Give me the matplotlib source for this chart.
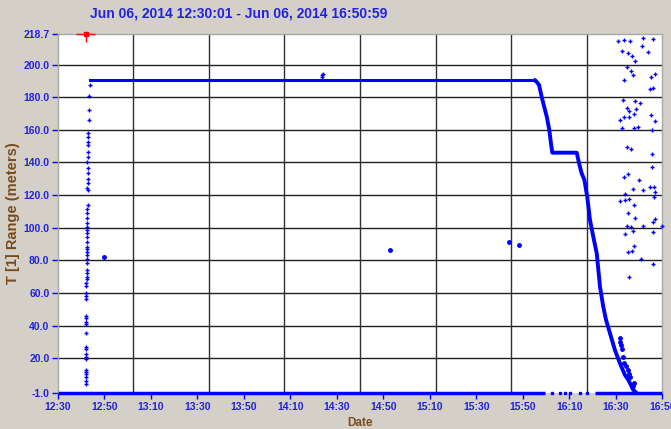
import numpy as np
import matplotlib
matplotlib.use('Agg')
import matplotlib.pyplot as plt

# minutes after 12:30 on Jun 06, 2014
xtick_minutes = [0, 20, 40, 60, 80, 100, 120, 140, 160, 180, 200, 220, 240, 260]
xtick_labels = ['12:30', '12:50', '13:10', '13:30', '13:50', '14:10', '14:30',
                '14:50', '15:10', '15:30', '15:50', '16:10', '16:30', '16:50']
ytick_values = [-1.0, 20.0, 40.0, 60.0, 80.0, 100.0, 120.0, 140.0, 160.0, 180.0, 200.0, 218.7]

# climb at start of track
ramp_t = [12.1, 12.1, 12.1, 12.1, 12.1, 12.1, 12.1, 12.1, 12.1, 12.2, 12.2, 12.1, 12.2, 12.2,
          12.2, 12.2, 12.3, 12.3, 12.3, 12.3, 12.3, 12.4, 12.4, 12.4, 12.4, 12.4, 12.5, 12.5,
          12.5, 12.5, 12.5, 12.6, 12.6, 12.6, 12.6, 12.6, 12.7, 12.7, 12.7, 12.7, 12.8, 12.8,
          12.6, 12.8, 12.9, 12.9, 13.0, 12.7, 12.9, 13.0, 13.1, 13.1, 13.2, 13.2, 13.4, 13.5,
          13.6, 13.7]
ramp_v = [4.4, 6.4, 8.9, 10.5, 11.9, 13.0, 19.5, 21.1, 22.5, 25.6, 27.2, 35.4, 41.1, 42.6,
          44.6, 46.0, 56.4, 58.3, 59.9, 64.4, 66.4, 68.9, 70.1, 72.1, 74.2, 78.3, 80.7, 83.4,
          85.2, 86.8, 88.5, 91.5, 94.6, 96.6, 98.7, 100.7, 102.8, 105.9, 108.9, 111.4, 114.0, 123.2,
          124.2, 127.3, 129.7, 133.4, 136.5, 140.6, 143.6, 146.7, 150.8, 152.8, 155.9, 157.9, 166.1,
          172.2, 180.8, 187.5]

# long plateau
flat_t = [13.8, 205.2]
flat_v = [190.3, 190.3]

# descent, second plateau, final descent
track_t = [205.2, 205.9, 207.0, 208.1, 208.8, 210.3, 211.4, 212.1, 212.7, 223.2, 224.2,
           225.3, 226.5, 227.7, 228.9, 230.3, 231.8, 233.2, 234.6, 235.8, 237.5, 239.6, 241.8,
           243.9, 245.4, 246.5, 247.5, 248.5]
track_v = [190.3, 189.5, 187.5, 180.3, 176.3, 168.1, 159.9, 151.8, 146.0, 146.0, 139.5,
           133.4, 129.3, 119.1, 104.8, 94.6, 84.4, 64.0, 51.7, 43.6, 35.4, 25.2, 17.0,
           9.9, 6.8, 3.7, 0.7, -0.6]

bump_t = [113.7, 113.8, 113.9]
bump_v = [192.5, 193.5, 194.3]

# stray points
stray_t = [20.0, 142.9, 194.2, 198.2,
           241.8, 242.5, 243.6, 245.1, 246.1, 248.0, 242.0, 242.3, 243.0, 244.5, 245.8, 247.2]
stray_v = [82.3, 86.4, 91.1, 89.3,
           32.5, 25.8, 17.2, 13.0, 8.9, 5.0, 30.0, 28.0, 21.0, 15.5, 10.5, 3.0]

# scattered readings at end of track
end_t = [240.9, 243.6, 246.0, 251.8, 256.1, 242.8, 245.2, 247.0, 248.4, 251.1, 253.8, 244.8,
         246.4, 247.5, 243.6, 256.9, 255.0, 256.0, 254.6, 243.2, 248.4, 250.4, 244.8, 245.5,
         248.8, 247.7, 243.6, 245.8, 241.7, 255.1, 257.0, 242.7, 248.0, 249.7, 255.7, 244.8,
         246.4, 255.4, 255.7, 243.4, 245.4, 250.0, 247.3, 251.6, 254.7, 256.6, 257.0, 244.1,
         245.7, 243.8, 241.9, 248.0, 256.3, 245.2, 248.4, 257.0, 244.9, 246.4, 251.6, 255.9,
         260.0, 244.1, 247.3, 256.1, 248.0, 245.2, 246.8, 250.7, 256.1, 245.7]
end_v = [214.4, 215.0, 214.6, 216.3, 215.6, 208.5, 206.9, 205.0, 202.2, 211.2, 207.9, 198.3,
         196.2, 193.4, 190.5, 194.0, 192.2, 185.8, 185.2, 178.3, 177.7, 176.6, 173.2, 171.7,
         172.6, 169.5, 168.1, 167.7, 166.0, 169.3, 165.4, 161.3, 161.0, 161.9, 160.1, 149.3,
         148.1, 145.2, 137.1, 130.9, 133.0, 129.1, 123.6, 123.0, 125.2, 125.2, 122.0, 120.7,
         117.5, 117.0, 116.2, 114.2, 118.9, 108.9, 106.0, 105.4, 101.1, 100.3, 101.1, 103.7,
         100.9, 96.4, 97.9, 97.3, 89.1, 85.4, 86.0, 80.9, 77.9, 69.9]

# zero-range readings along the bottom
floor_a_t = [0.0, 209.6]
floor_b_t = [231.0, 260.0]
floor_dots_t = [212.4, 216.0, 218.1, 220.3, 224.6, 227.5]

# clipped reading at top
clip_t = [12.1]
clip_v = [218.7]

text_blue = '#2222dd'
brown = '#7a4a1c'
blue = '#0000ff'
bg = '#d4d0c8'

fig = plt.figure(figsize=(6.71, 4.29), dpi=100, facecolor=bg)
ax = fig.add_axes([57.8 / 671, 36.3 / 429, 604.5 / 671, 358.7 / 429])
ax.set_facecolor('white')
ax.set_xlim(0, 260)
ax.set_ylim(-1, 218.7)

# grid: horizontal at value ticks, vertical in eight equal parts
for v in ytick_values[1:-1]:
    ax.axhline(v, color='#202020', lw=1.0, zorder=1)
for k in range(1, 8):
    ax.axvline(260 / 8 * k, color='#303030', lw=1.0, zorder=1)

ax.plot(floor_a_t, [-1, -1], color=blue, lw=2.5, clip_on=False, zorder=3, solid_capstyle='butt')
ax.plot(floor_b_t, [-1, -1], color=blue, lw=2.5, clip_on=False, zorder=3, solid_capstyle='butt')
ax.plot(floor_dots_t, [-1] * len(floor_dots_t), ls='none', marker='s', ms=2, color=blue,
        clip_on=False, zorder=3)

ax.plot(flat_t, flat_v, color=blue, lw=2.2, zorder=4)
ax.plot(track_t, track_v, color=blue, lw=2.8, zorder=4)
ax.plot(ramp_t, ramp_v, ls='none', marker='+', ms=3.5, mew=1, color=blue, zorder=4)
ax.plot(bump_t, bump_v, ls='none', marker='+', ms=3, mew=1, color=blue, zorder=4)
ax.plot(stray_t, stray_v, ls='none', marker='o', ms=2.5, color=blue, zorder=4)
ax.plot(end_t, end_v, ls='none', marker='+', ms=3.5, mew=1, color=blue, zorder=4, clip_on=False)

ax.errorbar(clip_t, clip_v, xerr=4.1, yerr=[[5.0], [0.0]], fmt='s', ms=2.5, color='red',
            ecolor='red', elinewidth=1, capsize=0, clip_on=False, zorder=5)

ax.set_xticks(xtick_minutes)
ax.set_xticklabels(xtick_labels)
ax.set_yticks(ytick_values)
ax.set_yticklabels(['%.1f' % v for v in ytick_values])
ax.tick_params(axis='both', colors=blue, labelcolor=text_blue, length=4, width=1,
               direction='out', labelsize=7.5)
ax.tick_params(axis='x', pad=3)
ax.tick_params(axis='y', pad=2)
for lab in ax.get_xticklabels() + ax.get_yticklabels():
    lab.set_fontweight('bold')
    lab.set_fontfamily('Liberation Sans')

for s in ax.spines.values():
    s.set_color('#a8a8a8')
    s.set_linewidth(1)
ax.spines['bottom'].set_visible(False)

ax.set_ylabel('T [1] Range (meters)', color=brown, fontsize=10.5, fontweight='bold',
              family='Liberation Sans', labelpad=2)
ax.set_xlabel('Date', color=brown, fontsize=8.5, fontweight='bold', family='Liberation Sans',
              labelpad=3)

fig.text(90 / 671, 1 - 14 / 429, 'Jun 06, 2014 12:30:01 - Jun 06, 2014 16:50:59',
         color=text_blue, fontsize=10, fontweight='bold', family='Liberation Sans',
         ha='left', va='center')

fig.savefig('out.png', dpi=100, facecolor=bg)
